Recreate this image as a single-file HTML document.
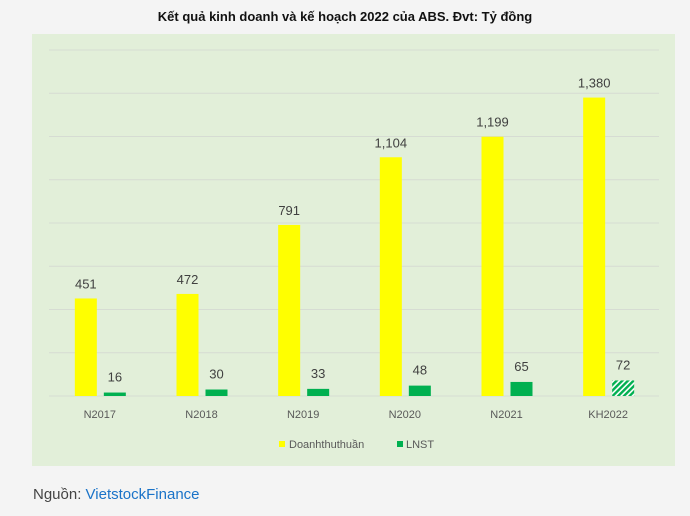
<!DOCTYPE html>
<html><head><meta charset="utf-8"><style>
body{margin:0;background:#f4f4f4;width:690px;height:511px;overflow:hidden;font-family:"Liberation Sans",sans-serif;}
</style></head><body>
<svg width="690" height="511" xmlns="http://www.w3.org/2000/svg" id="svg">
<defs><pattern id="hatch" width="4" height="4" patternUnits="userSpaceOnUse" patternTransform="rotate(45)"><rect width="4" height="4" fill="#fff"/><rect width="2.4" height="4" fill="#00b050"/></pattern></defs>
<text x="345" y="21" text-anchor="middle" font-size="13" font-weight="bold" fill="#111">Kết quả kinh doanh và kế hoạch 2022 của ABS. Đvt: Tỷ đồng</text>
<rect x="32" y="34" width="643" height="432" fill="#e2efd9"/>
<g id="grid"></g><g id="bars"></g><g id="labels"></g>
<rect x="279" y="441" width="6" height="6" fill="#ffff00"/>
<text x="289" y="448" font-size="11" fill="#595959">Doanhthuthuần</text>
<rect x="397" y="441" width="6" height="6" fill="#00b050"/>
<text x="406" y="448" font-size="11" fill="#595959">LNST</text>
<text x="33" y="499" font-size="15" fill="#444">Nguồn: <tspan fill="#1a73c8">VietstockFinance</tspan></text>
</svg>
<script>
const categories=["N2017","N2018","N2019","N2020","N2021","KH2022"];
const revenue=[451,472,791,1104,1199,1380];
const lnst=[16,30,33,48,65,72];
const yTicks=[0,200,400,600,800,1000,1200,1400,1600];
const NS="http://www.w3.org/2000/svg";
const x0=49,x1=659,yBase=396,yTop=50,yMax=1600;
const y=v=>yBase-(v/yMax)*(yBase-yTop);
const cw=(x1-x0)/categories.length;
const cx=i=>x0+cw*(i+0.5);
function mk(tag,attrs,parent){const e=document.createElementNS(NS,tag);for(const k in attrs)e.setAttribute(k,attrs[k]);document.getElementById(parent).appendChild(e);return e;}
yTicks.forEach(t=>{const l=mk('line',{x1:49,x2:659,y1:y(t),y2:y(t),stroke:'#d6dcd3','stroke-width':1},'grid');

});
const fmt=v=>v.toLocaleString('en-US');
categories.forEach((c,i)=>{
 const c0=cx(i);
 const r=mk('rect',{x:c0-25,y:y(revenue[i]),width:22,height:yBase-y(revenue[i]),fill:'#ffff00'},'bars');
 
 
 const g=mk('rect',{x:c0+4,y:y(lnst[i]),width:22,height:yBase-y(lnst[i]),fill:i===categories.length-1?'url(#hatch)':'#00b050'},'bars');
 
 
 const t1=mk('text',{x:c0-14,y:y(revenue[i])-10,'text-anchor':'middle','font-size':13,fill:'#404040'},'labels');t1.textContent=fmt(revenue[i]);
 
 
 const t2=mk('text',{x:c0+15,y:y(lnst[i])-11,'text-anchor':'middle','font-size':13,fill:'#404040'},'labels');t2.textContent=fmt(lnst[i]);
 
 
 const t3=mk('text',{x:c0,y:yBase+22,'text-anchor':'middle','font-size':11,fill:'#595959'},'labels');t3.textContent=c;
 
 
});
</script>
</body></html>
